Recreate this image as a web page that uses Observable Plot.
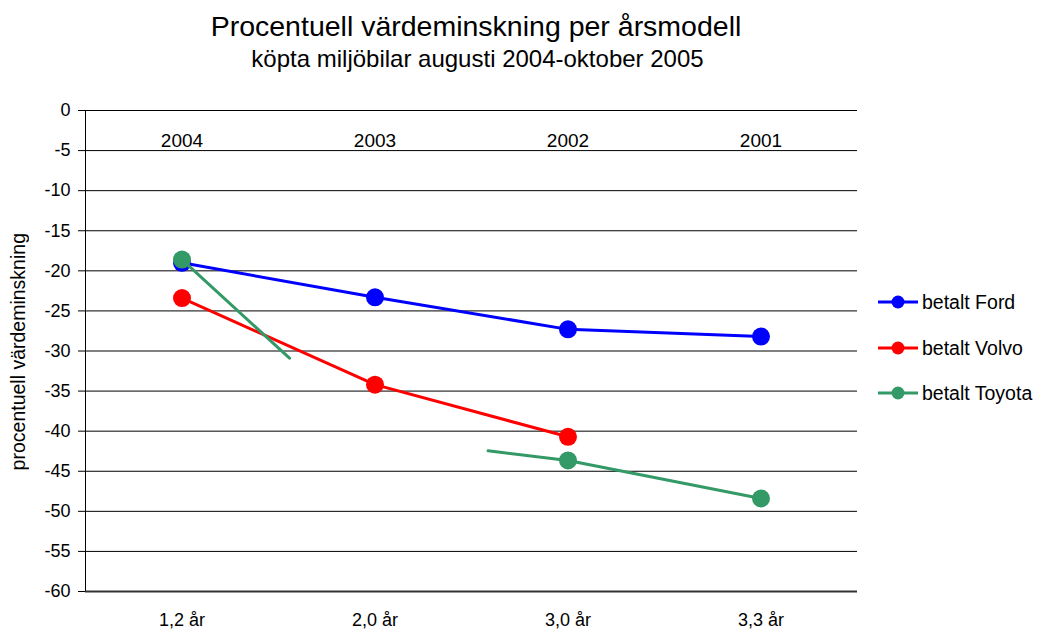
<!DOCTYPE html>
<html>
<head>
<meta charset="utf-8">
<script src="https://cdn.jsdelivr.net/npm/d3@7"></script>
<script src="https://cdn.jsdelivr.net/npm/@observablehq/plot@0.6"></script>
<style>
  html, body { margin: 0; padding: 0; background: #fff; }
  #wrap { position: relative; width: 1038px; height: 631px; overflow: hidden; font-family: "Liberation Sans", Arial, sans-serif; color: #000; }
  #title { position: absolute; left: 0; width: 952px; top: 9px; text-align: center; font-size: 28.5px; line-height: 34px; }
  #subtitle { position: absolute; left: 0; width: 955px; top: 44px; text-align: center; font-size: 24px; line-height: 30px; }
  #chart { position: absolute; left: 0; top: 80px; }
  #ylab { position: absolute; left: 0; top: 234px; width: 40px; height: 236px; overflow: hidden; z-index: 2; }
  #ylab span { position: absolute; left: 8px; bottom: 0; writing-mode: vertical-rl; transform: rotate(180deg); white-space: nowrap; font-size: 19.5px; line-height: 20px; }
  #legend { position: absolute; left: 878px; top: 290px; z-index: 2; }
  .row { position: absolute; left: 0; height: 24px; display: flex; align-items: center; white-space: nowrap; font-size: 19.5px; }
  .row svg { margin-right: 4px; }
</style>
</head>
<body>
<div id="wrap">
  <div id="title">Procentuell värdeminskning per årsmodell</div>
  <div id="subtitle">köpta miljöbilar augusti 2004-oktober 2005</div>
  <div id="chart"></div>
  <div id="ylab"><span>procentuell värdeminskning</span></div>
  <div id="legend"></div>
</div>
<script>
// ---- data ----
const years = ["2004", "2003", "2002", "2001"];
const ages = ["1,2 år", "2,0 år", "3,0 år", "3,3 år"];
const yTicks = [0, -5, -10, -15, -20, -25, -30, -35, -40, -45, -50, -55, -60];

const fordIdx = [0, 1, 2, 3];
const fordVal = [-19.0, -23.3, -27.3, -28.2];

const volvoIdx = [0, 1, 2];
const volvoVal = [-23.4, -34.2, -40.7];

// Toyota: drawn line pieces as they appear (a gap around 2003)
const toyotaLineAIdx = [0, 0.557];
const toyotaLineAVal = [-18.6, -30.9];
const toyotaLineBIdx = [1.586, 2, 3];
const toyotaLineBVal = [-42.45, -43.65, -48.4];
const toyotaDotIdx = [0, 2, 3];
const toyotaDotVal = [-18.6, -43.65, -48.4];

const seriesNames = ["betalt Ford", "betalt Volvo", "betalt Toyota"];
const seriesColors = ["#0000FF", "#FF0000", "#339966"];

const xDomain = [-0.5, 3.5];
const yDomain = [-60, 0];

// ---- build tables ----
const pts = (idx, val) => idx.map((x, i) => ({x, y: val[i]}));
const ford = pts(fordIdx, fordVal);
const volvo = pts(volvoIdx, volvoVal);
const toyA = pts(toyotaLineAIdx, toyotaLineAVal);
const toyB = pts(toyotaLineBIdx, toyotaLineBVal);
const toyD = pts(toyotaDotIdx, toyotaDotVal);

const font = "'Liberation Sans', Arial, sans-serif";

const chart = Plot.plot({
  width: 1038,
  height: 551,
  marginTop: 30,
  marginBottom: 40,
  marginLeft: 85,
  marginRight: 181,
  style: { fontFamily: font, fontSize: "18px", color: "#000", background: "transparent", overflow: "visible" },
  x: { type: "linear", domain: xDomain, axis: null },
  y: { domain: yDomain, axis: null },
  marks: [
    Plot.gridY(yTicks, { stroke: "#000", strokeOpacity: 1, strokeWidth: 1 }),
    Plot.ruleY([yDomain[0]], { stroke: "#333", strokeWidth: 2 }),
    Plot.ruleX([xDomain[0]], { stroke: "#000", strokeWidth: 1 }),
    Plot.axisY(yTicks, { tickSize: 7, tickPadding: 8, fontSize: 18, stroke: "#000", tickFormat: d => String(d), label: null }),
    Plot.axisX(fordIdx, { anchor: "bottom", tickSize: 0, tickPadding: 22, fontSize: 18, tickFormat: i => ages[i], label: null }),
    Plot.text(years, { x: (d, i) => i, frameAnchor: "top", dy: 23, text: d => d, fontSize: 19, fill: "#000" }),
    // Ford
    Plot.line(ford, { x: "x", y: "y", stroke: seriesColors[0], strokeWidth: 3 }),
    Plot.dot(ford, { x: "x", y: "y", r: 9, fill: seriesColors[0] }),
    // Volvo
    Plot.line(volvo, { x: "x", y: "y", stroke: seriesColors[1], strokeWidth: 3 }),
    Plot.dot(volvo, { x: "x", y: "y", r: 9, fill: seriesColors[1] }),
    // Toyota
    Plot.line(toyA, { x: "x", y: "y", stroke: seriesColors[2], strokeWidth: 3 }),
    Plot.line(toyB, { x: "x", y: "y", stroke: seriesColors[2], strokeWidth: 3 }),
    Plot.dot(toyD, { x: "x", y: "y", r: 9, fill: seriesColors[2] })
  ]
});
document.getElementById("chart").appendChild(chart);

// legend
const legend = document.getElementById("legend");
const rowTops = [0, 46, 91];
seriesNames.forEach((name, i) => {
  const row = document.createElement("div");
  row.className = "row";
  row.style.top = rowTops[i] + "px";
  row.innerHTML = `<svg width="40" height="20"><line x1="0" y1="10" x2="40" y2="10" stroke="${seriesColors[i]}" stroke-width="3"/><circle cx="20" cy="10" r="6.5" fill="${seriesColors[i]}"/></svg><span>${name}</span>`;
  legend.appendChild(row);
});
</script>
</body>
</html>
